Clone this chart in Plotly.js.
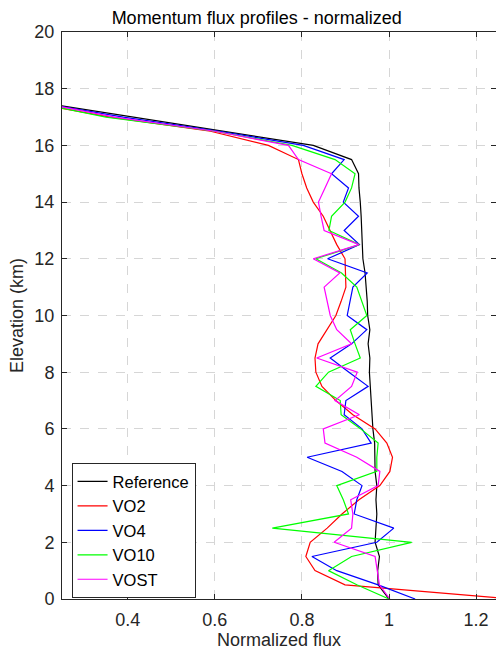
<!DOCTYPE html>
<html>
<head>
<meta charset="utf-8">
<script src="https://cdn.plot.ly/plotly-3.0.1.min.js"></script>
<style>html,body{margin:0;padding:0;background:#fff;}#chart{width:496px;height:650px;}</style>
</head>
<body>
<div id="chart"></div>
<script>
const elevation = [0,0.5,1,1.5,2,2.5,3,3.5,4,4.5,5,5.5,6,6.5,7,7.5,8,8.5,9,9.5,10,10.5,11,11.5,12,12.5,13,13.5,14,14.5,15,15.5,16,16.5,17,17.5,18];
const reference = [1.0,0.975,0.974,0.978,0.968,0.970,0.972,0.970,0.972,0.968,0.968,0.967,0.963,0.961,0.959,0.956,0.955,0.956,0.952,0.956,0.951,0.950,0.947,0.945,0.940,0.939,0.937,0.936,0.934,0.931,0.930,0.914,0.826,0.619,0.412,0.206,0];
const vo2 = [1.28,0.899,0.830,0.809,0.819,0.858,0.892,0.931,0.979,1.002,1.008,0.995,0.968,0.917,0.878,0.846,0.832,0.830,0.837,0.858,0.878,0.890,0.901,0.900,0.899,0.880,0.865,0.849,0.826,0.811,0.800,0.792,0.723,0.59,0.36,0.19,0];
const vo4 = [1.060,0.975,0.880,0.823,0.972,1.011,0.920,0.926,0.938,0.892,0.812,0.959,0.938,0.897,0.901,0.952,0.908,0.865,0.914,0.949,0.904,0.910,0.917,0.950,0.859,0.932,0.897,0.930,0.895,0.907,0.868,0.897,0.803,0.61,0.39,0.20,0];
const vo10 = [1.0,0.926,0.861,0.914,1.052,0.732,0.907,0.895,0.880,0.972,0.972,0.975,0.935,0.890,0.888,0.832,0.861,0.934,0.922,0.911,0.949,0.938,0.926,0.891,0.832,0.932,0.862,0.868,0.899,0.914,0.922,0.876,0.777,0.60,0.35,0.19,0];
const vost = [1.002,0.978,0.973,0.968,0.874,0.914,0.917,0.912,0.975,0.979,0.926,0.853,0.849,0.932,0.876,0.914,0.927,0.834,0.914,0.880,0.865,0.858,0.851,0.887,0.826,0.931,0.851,0.844,0.838,0.853,0.868,0.792,0.769,0.60,0.37,0.20,0];

const seriesNames = ["Reference","VO2","VO4","VO10","VOST"];
const seriesValues = [reference, vo2, vo4, vo10, vost];
const seriesColors = ["#000000","#ff0000","#0000ff","#00ff00","#ff00ff"];

const FONT = "Liberation Sans, Arial, Helvetica, sans-serif";
const AX = "#262626";

const traces = seriesNames.map((n,i)=>({
  type:"scatter", mode:"lines", name:n,
  x: seriesValues[i], y: elevation,
  line:{color:seriesColors[i], width:1.2},
  cliponaxis:true
}));

const layout = {
  width:496, height:650,
  margin:{l:62, r:0, t:32, b:51},
  paper_bgcolor:"#fff", plot_bgcolor:"#fff",
  font:{family:FONT, size:18, color:AX},
  title:{text:"Momentum flux profiles - normalized", font:{family:FONT,size:18,color:"#000"},
         x:0.5175, xanchor:"center", xref:"container", y:0.973, yanchor:"middle", yref:"container"},
  xaxis:{range:[0.249,1.2457], tickvals:[0.4,0.6,0.8,1,1.2], ticktext:["0.4","0.6","0.8","1","1.2"],
         showgrid:true, gridcolor:"#d6d6d6", griddash:"dash", gridwidth:1,
         zeroline:false, showline:true, linecolor:AX, linewidth:1, mirror:"allticks",
         ticks:"inside", ticklen:5, tickcolor:AX, tickfont:{family:FONT,size:18,color:AX},
         ticklabelstandoff:4,
         title:{text:"Normalized flux", font:{family:FONT,size:18,color:AX}, standoff:4}},
  yaxis:{range:[0,20], tickvals:[0,2,4,6,8,10,12,14,16,18,20],
         showgrid:true, gridcolor:"#d6d6d6", griddash:"dash", gridwidth:1,
         zeroline:false, showline:true, linecolor:AX, linewidth:1, mirror:"allticks",
         ticks:"inside", ticklen:5, tickcolor:AX, tickfont:{family:FONT,size:18,color:AX},
         ticklabelstandoff:3,
         title:{text:"Elevation (km)", font:{family:FONT,size:18,color:AX}, standoff:6}},
  legend:{x:0.022, y:0.2395, xanchor:"left", yanchor:"top", bgcolor:"#fff",
          bordercolor:AX, borderwidth:1, font:{family:FONT,size:16.5,color:"#000"},
          itemwidth:30, tracegroupgap:0},
  showlegend:true
};

Plotly.newPlot("chart", traces, layout, {displayModeBar:false, staticPlot:true});
</script>
</body>
</html>
